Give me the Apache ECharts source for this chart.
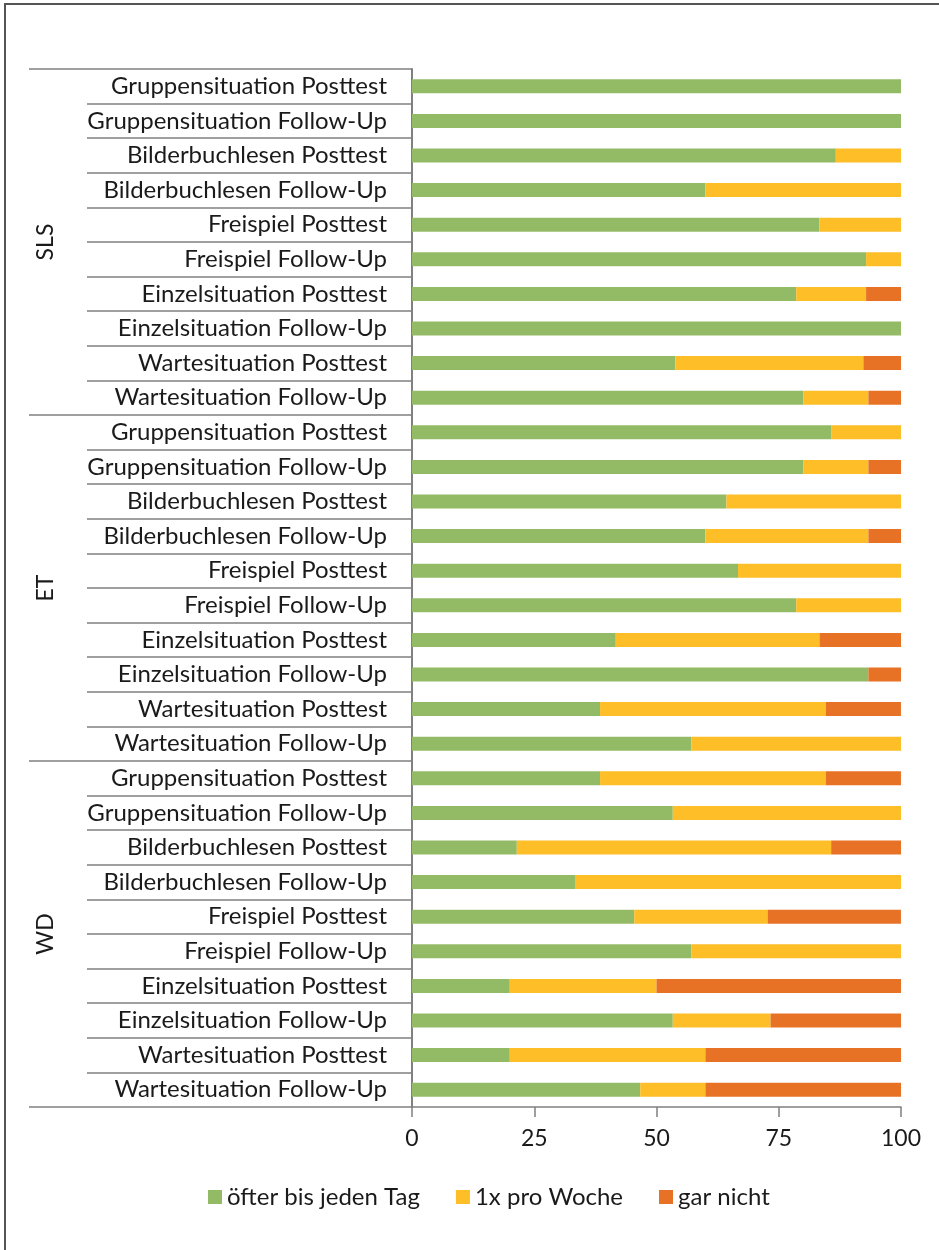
<!DOCTYPE html>
<html>
<head>
<meta charset="utf-8">
<script src="https://cdn.jsdelivr.net/npm/echarts@6/dist/echarts.min.js"></script>
<style>
  html, body { margin: 0; padding: 0; background: #fff; }
  #frame { position: absolute; left: 4px; top: 3px; width: 935px; height: 1247px;
           border-left: 2px solid #555; border-top: 2px solid #555; box-sizing: border-box; }
  #chart { position: absolute; left: 0; top: 0; width: 939px; height: 1250px; }
</style>
</head>
<body>
<div id="frame"></div>
<div id="chart"></div>
<script>
// rows, top to bottom
const situations = [
  'Gruppensituation Posttest', 'Gruppensituation Follow-Up',
  'Bilderbuchlesen Posttest', 'Bilderbuchlesen Follow-Up',
  'Freispiel Posttest', 'Freispiel Follow-Up',
  'Einzelsituation Posttest', 'Einzelsituation Follow-Up',
  'Wartesituation Posttest', 'Wartesituation Follow-Up'
];
const groups = ['SLS', 'ET', 'WD'];
const rows = [].concat(situations, situations, situations);

const seriesNames = ['öfter bis jeden Tag', '1x pro Woche', 'gar nicht'];

// percentages per row (SLS, ET, WD)
const oefter = [
  100, 100, 86.67, 60, 83.33, 92.86, 78.57, 100, 53.85, 80,
  85.71, 80, 64.29, 60, 66.67, 78.57, 41.67, 93.33, 38.46, 57.14,
  38.46, 53.33, 21.43, 33.33, 45.45, 57.14, 20, 53.33, 20, 46.67
];
const proWoche = [
  0, 0, 13.33, 40, 16.67, 7.14, 14.29, 0, 38.46, 13.33,
  14.29, 13.33, 35.71, 33.33, 33.33, 21.43, 41.67, 0, 46.15, 42.86,
  46.15, 46.67, 64.29, 66.67, 27.27, 42.86, 30, 20, 40, 13.33
];
const garNicht = [
  0, 0, 0, 0, 0, 0, 7.14, 0, 7.69, 6.67,
  0, 6.67, 0, 6.67, 0, 0, 16.67, 6.67, 15.38, 0,
  15.38, 0, 14.29, 0, 27.27, 0, 50, 26.67, 40, 40
];
const xTicks = { min: 0, max: 100, interval: 25 };

const colors = ['#93bb65', '#fdbe28', '#e77226'];
const font = 'Lato, "Open Sans", sans-serif';
const axisGray = '#808080';
const textColor = '#1a1a1a';

const chart = echarts.init(document.getElementById('chart'));

const makeBar = (name, data, color) => ({
  name: name,
  type: 'bar',
  stack: 'total',
  barWidth: 14,
  yAxisIndex: 0,
  itemStyle: { color: color },
  data: data
});

chart.setOption({
  animation: false,
  color: colors,
  grid: { left: 412, right: 38, top: 69, bottom: 143, containLabel: false },
  legend: {
    top: 1180,
    left: 203,
    icon: 'rect',
    itemWidth: 14,
    itemHeight: 14,
    itemGap: 36,
    textStyle: { fontFamily: font, fontSize: 24, color: textColor },
    data: seriesNames
  },
  xAxis: {
    type: 'value',
    min: xTicks.min,
    max: xTicks.max,
    interval: xTicks.interval,
    splitLine: { show: false },
    axisLine: { show: true, lineStyle: { color: axisGray, width: 1.5 } },
    axisTick: { show: true, length: 10, lineStyle: { color: axisGray, width: 1.5 } },
    axisLabel: { fontFamily: font, fontSize: 23, color: textColor, margin: 20 }
  },
  yAxis: [
    {
      type: 'category',
      inverse: true,
      data: rows,
      axisLine: { show: true, lineStyle: { color: axisGray, width: 2 } },
      axisTick: { show: true, length: 325, lineStyle: { color: axisGray, width: 1.5 } },
      axisLabel: { fontFamily: font, fontSize: 24, color: textColor, margin: 25, interval: 0 },
      splitLine: { show: false }
    },
    {
      type: 'category',
      inverse: true,
      position: 'left',
      data: groups,
      axisLine: { show: false },
      axisTick: { show: true, length: 383, lineStyle: { color: axisGray, width: 1.5 } },
      axisLabel: { fontFamily: font, fontSize: 23, color: textColor, rotate: 90, margin: 355 },
      splitLine: { show: false }
    }
  ],
  series: [
    makeBar(seriesNames[0], oefter, colors[0]),
    makeBar(seriesNames[1], proWoche, colors[1]),
    makeBar(seriesNames[2], garNicht, colors[2])
  ]
});
</script>
</body>
</html>
